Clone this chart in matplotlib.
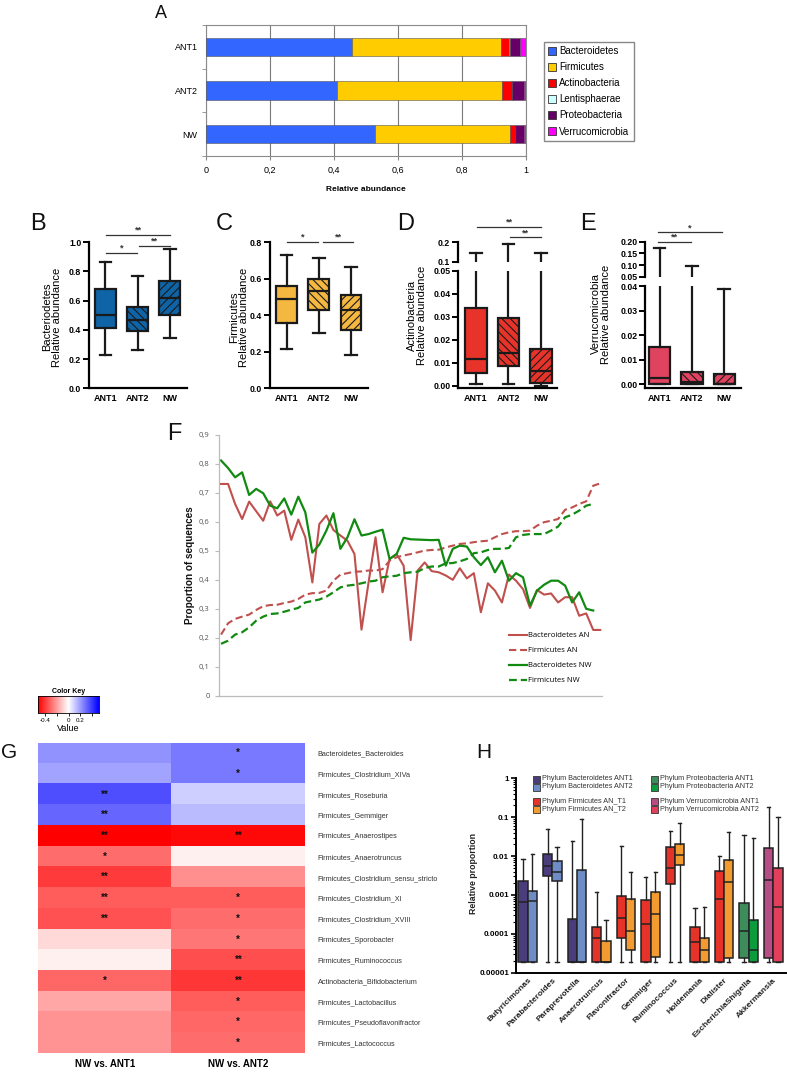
import numpy as np
import matplotlib
matplotlib.use('Agg')
import matplotlib.pyplot as plt
from matplotlib.patches import Patch, Rectangle
from matplotlib.lines import Line2D
from matplotlib.colors import LinearSegmentedColormap
from matplotlib.ticker import FixedLocator, NullFormatter, LogLocator

plt.rcParams['font.family'] = ['Liberation Sans', 'DejaVu Sans']
plt.rcParams['hatch.linewidth'] = 0.8

# ---------------- DATA ----------------
# Panel A
groups_A = ['ANT1', 'ANT2', 'NW']
phyla_A = ['Bacteroidetes', 'Firmicutes', 'Actinobacteria', 'Lentisphaerae',
           'Proteobacteria', 'Verrucomicrobia']
bacteroidetes_A = [0.455, 0.409, 0.527]
firmicutes_A = [0.468, 0.515, 0.424]
actinobacteria_A = [0.025, 0.032, 0.015]
lentisphaerae_A = [0.001, 0.001, 0.001]
proteobacteria_A = [0.033, 0.037, 0.028]
verrucomicrobia_A = [0.018, 0.006, 0.005]

# Panels B-E : [whisker low, q1, median, q3, whisker high]
box_groups = ['ANT1', 'ANT2', 'NW']
bact_ANT1 = [0.23, 0.41, 0.50, 0.68, 0.86]
bact_ANT2 = [0.26, 0.39, 0.465, 0.555, 0.765]
bact_NW = [0.345, 0.50, 0.62, 0.735, 0.955]
firm_ANT1 = [0.215, 0.355, 0.49, 0.56, 0.73]
firm_ANT2 = [0.30, 0.43, 0.53, 0.595, 0.715]
firm_NW = [0.18, 0.32, 0.43, 0.51, 0.665]
actino_ANT1 = [0.0005, 0.0054, 0.0115, 0.0337, 0.146]
actino_ANT2 = [0.0005, 0.0086, 0.0141, 0.0297, 0.19]
actino_NW = [0.0, 0.0010, 0.0065, 0.016, 0.146]
verru_ANT1 = [0.0, 0.0, 0.0025, 0.015, 0.175]
verru_ANT2 = [0.0, 0.0003, 0.001, 0.0052, 0.097]
verru_NW = [0.0, 0.0, 0.0003, 0.0043, 0.0386]

# Panel F
f_bact_an = [0.731, 0.731, 0.662, 0.61, 0.67, 0.637, 0.604, 0.671, 0.622, 0.639,
             0.538, 0.608, 0.547, 0.391, 0.593, 0.622, 0.572, 0.553, 0.535, 0.489,
             0.228, 0.39, 0.547, 0.357, 0.472, 0.489, 0.449, 0.192, 0.432, 0.46,
             0.43, 0.426, 0.415, 0.40, 0.44, 0.405, 0.423, 0.288, 0.388, 0.363,
             0.322, 0.418, 0.397, 0.368, 0.303, 0.365, 0.349, 0.353, 0.322, 0.34,
             0.34, 0.276, 0.284, 0.227, 0.227]
f_firm_an = [0.211, 0.25, 0.265, 0.273, 0.28, 0.296, 0.309, 0.313, 0.314, 0.32,
             0.325, 0.334, 0.349, 0.354, 0.355, 0.363, 0.397, 0.418, 0.423, 0.428,
             0.429, 0.432, 0.432, 0.437, 0.466, 0.478, 0.484, 0.489, 0.495, 0.501,
             0.503, 0.504, 0.512, 0.518, 0.524, 0.526, 0.53, 0.533, 0.535, 0.547,
             0.558, 0.564, 0.568, 0.568, 0.57, 0.587, 0.599, 0.604, 0.61, 0.642,
             0.65, 0.662, 0.671, 0.725, 0.733]
f_bact_nw = [0.812, 0.786, 0.754, 0.771, 0.693, 0.714, 0.699, 0.656, 0.647, 0.681,
             0.625, 0.687, 0.633, 0.494, 0.522, 0.57, 0.63, 0.507, 0.547, 0.609,
             0.553, 0.558, 0.566, 0.573, 0.472, 0.489, 0.545, 0.54, 0.539, 0.538,
             0.537, 0.538, 0.449, 0.507, 0.518, 0.515, 0.478, 0.451, 0.478, 0.426,
             0.466, 0.397, 0.423, 0.409, 0.311, 0.363, 0.383, 0.397, 0.397, 0.38,
             0.322, 0.357, 0.30, 0.294]
f_firm_nw = [0.179, 0.19, 0.211, 0.219, 0.236, 0.259, 0.273, 0.282, 0.284, 0.29,
             0.297, 0.303, 0.322, 0.327, 0.332, 0.342, 0.357, 0.374, 0.38, 0.383,
             0.388, 0.394, 0.397, 0.409, 0.412, 0.414, 0.423, 0.426, 0.428, 0.441,
             0.446, 0.446, 0.457, 0.458, 0.464, 0.472, 0.492, 0.495, 0.503, 0.507,
             0.507, 0.51, 0.547, 0.555, 0.558, 0.558, 0.558, 0.57, 0.584, 0.616,
             0.625, 0.639, 0.656, 0.662]
f_labels = ['Bacteroidetes AN', 'Firmicutes AN', 'Bacteroidetes NW', 'Firmicutes NW']
f_yticks = ['0', '0,1', '0,2', '0,3', '0,4', '0,5', '0,6', '0,7', '0,8', '0,9']

# Panel G
g_rows = ['Bacteroidetes_Bacteroides', 'Firmicutes_Clostridium_XIVa', 'Firmicutes_Roseburia',
          'Firmicutes_Gemmiger', 'Firmicutes_Anaerostipes', 'Firmicutes_Anaerotruncus',
          'Firmicutes_Clostridium_sensu_stricto', 'Firmicutes_Clostridium_XI',
          'Firmicutes_Clostridium_XVIII', 'Firmicutes_Sporobacter', 'Firmicutes_Ruminococcus',
          'Actinobacteria_Bifidobacterium', 'Firmicutes_Lactobacillus',
          'Firmicutes_Pseudoflavonifractor', 'Firmicutes_Lactococcus']
g_cols = ['NW vs. ANT1', 'NW vs. ANT2']
g_ant1 = [0.22, 0.19, 0.36, 0.31, -0.52, -0.30, -0.40, -0.33, -0.35, -0.08, -0.03,
          -0.31, -0.18, -0.22, -0.22]
g_ant2 = [0.27, 0.27, 0.10, 0.14, -0.50, -0.03, -0.23, -0.33, -0.30, -0.28, -0.36,
          -0.41, -0.33, -0.31, -0.30]
g_sig_ant1 = ['', '', '**', '**', '**', '*', '**', '**', '**', '', '', '*', '', '', '']
g_sig_ant2 = ['*', '*', '', '', '**', '', '', '*', '*', '*', '**', '**', '*', '*', '*']

# Panel H : per taxon
h_taxa = ['Butyricimonas', 'Parabacteroides', 'Paraprevotella', 'Anaerotruncus',
          'Flavonifractor', 'Gemmiger', 'Ruminococcus', 'Holdemania', 'Dialister',
          'EscherichiaShigella', 'Akkermansia']
h_phylum = ['Bacteroidetes', 'Bacteroidetes', 'Bacteroidetes', 'Firmicutes', 'Firmicutes',
            'Firmicutes', 'Firmicutes', 'Firmicutes', 'Firmicutes', 'Proteobacteria',
            'Verrucomicrobia']
h1_low = [1.9e-5] * 11
h1_q1 = [1.9e-5, 3.1e-3, 1.9e-5, 1.9e-5, 7.9e-5, 1.9e-5, 1.9e-3, 1.9e-5, 1.9e-5, 2.4e-5, 2.4e-5]
h1_med = [6.6e-4, 5.6e-3, 1.9e-5, 7.9e-5, 2.6e-4, 1.75e-4, 4.8e-3, 6.0e-5, 7.7e-4, 1.2e-4, 2.4e-3]
h1_q3 = [2.3e-3, 1.1e-2, 2.35e-4, 1.5e-4, 9.6e-4, 7.4e-4, 1.67e-2, 1.5e-4, 4.2e-3, 6.3e-4, 1.59e-2]
h1_high = [8.3e-3, 0.051, 0.025, 1.2e-3, 0.0186, 2.9e-3, 0.045, 4.6e-4, 0.0102, 0.034, 0.187]
h2_low = [1.9e-5] * 11
h2_q1 = [1.9e-5, 2.3e-3, 1.9e-5, 1.9e-5, 3.8e-5, 2.5e-5, 5.9e-3, 1.9e-5, 2.4e-5, 1.9e-5, 1.9e-5]
h2_med = [7.1e-4, 3.9e-3, 1.9e-5, 1.9e-5, 1.2e-4, 3.2e-4, 1.07e-2, 3.8e-5, 2.2e-3, 3.8e-5, 5.0e-4]
h2_q3 = [1.26e-3, 7.4e-3, 4.4e-3, 6.6e-5, 7.7e-4, 1.17e-3, 2.1e-2, 7.6e-5, 7.9e-3, 2.3e-4, 5.0e-3]
h2_high = [1.1e-2, 0.017, 0.09, 2.3e-4, 3.8e-3, 3.8e-3, 0.069, 4.9e-4, 0.042, 0.029, 0.10]
h_legend = ['Phylum Bacteroidetes ANT1', 'Phylum Bacteroidetes ANT2',
            'Phylum Firmicutes AN_T1', 'Phylum Firmicutes AN_T2',
            'Phylum Proteobacteria ANT1', 'Phylum Proteobacteria ANT2',
            'Phylum Verrucomicrobia ANT1', 'Phylum Verrucomicrobia ANT2']

# ---------------- FIGURE ----------------
W, H = 787, 1073
fig = plt.figure(figsize=(W / 100, H / 100), dpi=100)
fig.patch.set_facecolor('white')


def add_ax(l, t, r, b):
    return fig.add_axes([l / W, 1 - b / H, (r - l) / W, (b - t) / H])


def ftext(x, y, s, **kw):
    return fig.text(x / W, 1 - y / H, s, **kw)


# panel letters
for letter, x, y, fs in [('A', 155, 18, 13), ('B', 30, 230, 17), ('C', 216, 230, 17),
                         ('D', 397, 230, 17), ('E', 580, 230, 17), ('F', 167, 440, 17),
                         ('G', 1, 758, 15), ('H', 476, 758, 15)]:
    ftext(x, y, letter, fontsize=fs, ha='left', va='baseline', color='#111')

# ---------- Panel A ----------
axA = add_ax(206, 25, 526, 156)
colorsA = ['#3366FF', '#FFCC00', '#FF0000', '#CCFFFF', '#660066', '#FF00FF']
seriesA = [bacteroidetes_A, firmicutes_A, actinobacteria_A, lentisphaerae_A,
           proteobacteria_A, verrucomicrobia_A]
yA = np.arange(len(groups_A)) + 0.5
left = np.zeros(len(groups_A))
handlesA = []
for name, vals, c in zip(phyla_A, seriesA, colorsA):
    axA.barh(yA, vals, left=left, height=0.42, color=c, edgecolor='#555555',
             linewidth=0.4, zorder=3)
    left += np.array(vals)
    handlesA.append(Patch(facecolor=c, edgecolor='#333333', linewidth=0.6, label=name))
axA.set_xlim(0, 1)
axA.set_ylim(3, 0)
axA.set_yticks(yA)
axA.set_yticklabels(groups_A, fontsize=6.5)
axA.yaxis.set_minor_locator(FixedLocator([0, 1, 2, 3]))
axA.tick_params(axis='y', which='major', length=0, pad=6)
axA.tick_params(axis='y', which='minor', length=3, color='#888888')
axA.set_xticks([0, 0.2, 0.4, 0.6, 0.8, 1.0])
axA.set_xticklabels(['0', '0,2', '0,4', '0,6', '0,8', '1'], fontsize=6.5)
axA.tick_params(axis='x', length=3, color='#888888', pad=4)
axA.grid(axis='x', color='#7a7a7a', linewidth=0.8, zorder=0)
for s in axA.spines.values():
    s.set_color('#8a8a8a')
    s.set_linewidth(0.8)
axA.set_xlabel('Relative abundance', fontsize=6, fontweight='bold', labelpad=8)
fig.legend(handles=handlesA, loc='upper left', bbox_to_anchor=(544 / W, 1 - 42 / H),
           bbox_transform=fig.transFigure, fontsize=7, frameon=True, fancybox=False,
           edgecolor='#888888', framealpha=1, handlelength=0.8, handleheight=0.8,
           handletextpad=0.3, labelspacing=0.62, borderpad=0.45, borderaxespad=0)


# ---------- Panels B-E ----------
def make_stats(groups, arrs):
    out = []
    for g, a in zip(groups, arrs):
        out.append(dict(label=g, whislo=a[0], q1=a[1], med=a[2], q3=a[3], whishi=a[4]))
    return out


def draw_box(ax, stats, color, width=0.65):
    lw = 1.6
    k = '#1a1a1a'
    bp = ax.bxp(stats, positions=[1, 2, 3], widths=width, patch_artist=True,
                showfliers=False, capwidths=width * 0.55,
                boxprops=dict(linewidth=lw, edgecolor=k),
                medianprops=dict(color=k, linewidth=lw),
                whiskerprops=dict(color=k, linewidth=lw),
                capprops=dict(color=k, linewidth=lw))
    for p, h in zip(bp['boxes'], [None, '\\\\\\\\', '////']):
        p.set_facecolor(color)
        if h:
            p.set_hatch(h)
    return bp


def style_prism(ax, xlabels=True):
    for s in ['top', 'right']:
        ax.spines[s].set_visible(False)
    ax.spines['left'].set_linewidth(1.6)
    ax.spines['bottom'].set_linewidth(1.6)
    ax.tick_params(axis='y', length=4, width=1.4, labelsize=6.3, pad=1.5)
    ax.tick_params(axis='x', length=0, labelsize=6.5, pad=4)
    for t in ax.get_yticklabels():
        t.set_fontweight('bold')
    if xlabels:
        ax.set_xticks([1, 2, 3])
        ax.set_xticklabels(box_groups, fontweight='bold', fontsize=6.5)
    else:
        ax.set_xticks([])


def sig(ax, x0, x1, y, txt):
    ax.plot([x0, x1], [y, y], color='#333333', linewidth=0.9, clip_on=False)
    ax.text((x0 + x1) / 2, y, txt, ha='center', va='bottom', fontsize=6.5,
            fontweight='bold', color='#333333', clip_on=False)


# B
axB = add_ax(89, 242, 187, 388.3)
draw_box(axB, make_stats(box_groups, [bact_ANT1, bact_ANT2, bact_NW]), '#0E64A6')
axB.set_xlim(0.49, 3.53)
axB.set_ylim(0, 1.0)
axB.set_yticks([0, 0.2, 0.4, 0.6, 0.8, 1.0])
axB.set_yticklabels(['0.0', '0.2', '0.4', '0.6', '0.8', '1.0'])
style_prism(axB)
sig(axB, 1.02, 1.97, 0.925, '*')
sig(axB, 2.05, 3.0, 0.975, '**')
sig(axB, 1.02, 3.0, 1.05, '**')
ftext(52, 317, 'Bacteriodetes\nRelative abundance', rotation=90, ha='center',
      va='center', fontsize=8, linespacing=1.0)

# C
axC = add_ax(270, 242, 368, 388.3)
draw_box(axC, make_stats(box_groups, [firm_ANT1, firm_ANT2, firm_NW]), '#F4B740')
axC.set_xlim(0.48, 3.53)
axC.set_ylim(0, 0.8)
axC.set_yticks([0, 0.2, 0.4, 0.6, 0.8])
axC.set_yticklabels(['0.0', '0.2', '0.4', '0.6', '0.8'])
style_prism(axC)
sig(axC, 1.02, 1.98, 0.80, '*')
sig(axC, 2.14, 3.07, 0.80, '**')
ftext(239, 317, 'Firmicutes\nRelative abundance', rotation=90, ha='center',
      va='center', fontsize=8, linespacing=1.0)

# D (broken axis)
axD = add_ax(458, 271, 557, 388.3)
axD2 = add_ax(458, 242.3, 557, 261.7)
statsD = make_stats(box_groups, [actino_ANT1, actino_ANT2, actino_NW])
for a in (axD, axD2):
    draw_box(a, statsD, '#E8332A', width=0.66)
    a.set_xlim(0.45, 3.49)
axD.set_ylim(-0.0012, 0.05)
axD.set_yticks([0, 0.01, 0.02, 0.03, 0.04, 0.05])
axD.set_yticklabels(['0.00', '0.01', '0.02', '0.03', '0.04', '0.05'])
style_prism(axD)
axD2.set_ylim(0.1, 0.2)
axD2.set_yticks([0.1, 0.2])
axD2.set_yticklabels(['0.1', '0.2'])
style_prism(axD2, xlabels=False)
axD2.spines['bottom'].set_visible(False)
sig(axD2, 1.03, 3.0, 0.28, '**')
sig(axD2, 2.04, 3.0, 0.227, '**')
ftext(417, 315, 'Actinobacteria\nRelative abundance', rotation=90, ha='center',
      va='center', fontsize=8, linespacing=1.0)

# E (broken axis)
axE = add_ax(645, 286, 741, 388.3)
axE2 = add_ax(645, 241.7, 741, 276.7)
statsE = make_stats(box_groups, [verru_ANT1, verru_ANT2, verru_NW])
for a in (axE, axE2):
    draw_box(a, statsE, '#E0435F', width=0.66)
    a.set_xlim(0.55, 3.52)
axE.set_ylim(-0.0016, 0.04)
axE.set_yticks([0, 0.01, 0.02, 0.03, 0.04])
axE.set_yticklabels(['0.00', '0.01', '0.02', '0.03', '0.04'])
style_prism(axE)
axE2.set_ylim(0.05, 0.2)
axE2.set_yticks([0.05, 0.10, 0.15, 0.20])
axE2.set_yticklabels(['0.05', '0.10', '0.15', '0.20'])
style_prism(axE2, xlabels=False)
axE2.spines['bottom'].set_visible(False)
sig(axE2, 0.95, 2.94, 0.24, '*')
sig(axE2, 0.95, 1.98, 0.20, '**')
ftext(601, 314, 'Verrucomicrobia\nRelative abundance', rotation=90, ha='center',
      va='center', fontsize=8, linespacing=1.0)

# ---------- Panel F ----------
axF = add_ax(219.3, 435, 602, 695.7)
red = '#C0504D'
green = '#118A11'
axF.plot(np.arange(len(f_bact_an)), f_bact_an, color=red, lw=1.5, label=f_labels[0])
axF.plot(np.arange(len(f_firm_an)), f_firm_an, color=red, lw=1.5, dashes=(3.5, 1.8),
         label=f_labels[1])
axF.plot(np.arange(len(f_bact_nw)), f_bact_nw, color=green, lw=1.6, label=f_labels[2])
axF.plot(np.arange(len(f_firm_nw)), f_firm_nw, color=green, lw=1.6, dashes=(3.5, 1.8),
         label=f_labels[3])
axF.set_xlim(-0.25, 54.25)
axF.set_ylim(0, 0.9)
axF.set_yticks(np.arange(10) * 0.1)
axF.set_yticklabels(f_yticks, fontsize=5.5, color='#555555', family=['Open Sans', 'DejaVu Sans'])
axF.set_xticks([])
for s in ['top', 'right']:
    axF.spines[s].set_visible(False)
for s in ['left', 'bottom']:
    axF.spines[s].set_color('#BBBBBB')
    axF.spines[s].set_linewidth(0.9)
axF.tick_params(axis='y', length=3, color='#BBBBBB', pad=4)
ftext(190, 565, 'Proportion of sequences', rotation=90, ha='center', va='center',
      fontsize=7.2, fontweight='bold', color='#111')
axF.legend(loc='upper left', bbox_to_anchor=(509 / W, 1 - 632 / H),
           bbox_transform=fig.transFigure, frameon=False,
           handlelength=2.3, handletextpad=0.15, labelspacing=1.0, borderpad=0,
           borderaxespad=0, prop={'family': ['Open Sans', 'DejaVu Sans'], 'size': 5.5})

# ---------- Panel G ----------
cmapG = LinearSegmentedColormap.from_list('rwb', ['#FF0000', '#FFFFFF', '#0000FF'])
vlim = 0.52
axK = add_ax(38, 696, 99, 712.7)
grad = np.linspace(-vlim, vlim, 256)[None, :]
axK.imshow(grad, cmap=cmapG, vmin=-vlim, vmax=vlim, aspect='auto',
           extent=[-vlim, vlim, 0, 1])
axK.set_yticks([])
axK.set_xticks([-0.4, -0.2, 0, 0.2, 0.4])
axK.set_xticklabels(['-0.4', '', '0', '0.2', ''], fontsize=4.5)
axK.tick_params(axis='x', length=2, width=0.6, pad=1.5)
for s in axK.spines.values():
    s.set_linewidth(0.6)
axK.set_title('Color Key', fontsize=5, fontweight='bold', pad=2)
axK.set_xlabel('Value', fontsize=6.5, labelpad=1)

axG = add_ax(38.3, 742.7, 305, 1053.3)
dataG = np.column_stack([g_ant1, g_ant2])
axG.imshow(dataG, cmap=cmapG, vmin=-vlim, vmax=vlim, aspect='auto',
           interpolation='nearest')
for i in range(len(g_rows)):
    for j, sigs in enumerate([g_sig_ant1, g_sig_ant2]):
        if sigs[i]:
            axG.text(j, i, sigs[i], ha='center', va='center', fontsize=7,
                     fontweight='bold', color='#111')
axG.yaxis.tick_right()
axG.set_yticks(np.arange(len(g_rows)))
axG.set_yticklabels(g_rows, fontsize=5.2, color='#333333')
axG.tick_params(axis='y', length=0, pad=9)
axG.set_xticks([0, 1])
axG.set_xticklabels(g_cols, fontsize=7, fontweight='bold')
axG.tick_params(axis='x', length=0, pad=4)
for s in axG.spines.values():
    s.set_visible(False)

# ---------- Panel H ----------
axH = add_ax(516, 778.3, 786, 972.7)
h_colors = {'Bacteroidetes': ('#4B3C7B', '#6E8CC6'),
            'Firmicutes': ('#E5332A', '#F39A31'),
            'Proteobacteria': ('#3E8C5B', '#0C9B3D'),
            'Verrucomicrobia': ('#B84C84', '#E23F5C')}
bw = 0.38
for grp, (lo, q1, md, q3, hi), off in [
        (0, (h1_low, h1_q1, h1_med, h1_q3, h1_high), -bw / 2),
        (1, (h2_low, h2_q1, h2_med, h2_q3, h2_high), bw / 2)]:
    stats = [dict(whislo=lo[i], q1=q1[i], med=md[i], q3=q3[i], whishi=hi[i])
             for i in range(len(h_taxa))]
    pos = np.arange(len(h_taxa)) + off
    bp = axH.bxp(stats, positions=pos, widths=bw, patch_artist=True, showfliers=False,
                 capwidths=bw * 0.35,
                 boxprops=dict(linewidth=1.1, edgecolor='#222222'),
                 medianprops=dict(color='#222222', linewidth=1.1),
                 whiskerprops=dict(color='#222222', linewidth=1.0),
                 capprops=dict(color='#222222', linewidth=1.0))
    for p, ph in zip(bp['boxes'], h_phylum):
        p.set_facecolor(h_colors[ph][grp])
axH.set_yscale('log')
axH.set_ylim(1e-5, 1)
axH.set_xlim(-0.48, 10.52)
axH.set_yticks([1e-5, 1e-4, 1e-3, 1e-2, 1e-1, 1])
axH.set_yticklabels(['0.00001', '0.0001', '0.001', '0.01', '0.1', '1'], fontsize=5.8,
                    fontweight='bold')
axH.yaxis.set_minor_locator(LogLocator(base=10, subs=np.arange(2, 10)))
axH.yaxis.set_minor_formatter(NullFormatter())
axH.tick_params(axis='y', which='major', length=3.5, width=1.2, pad=1.5)
axH.tick_params(axis='y', which='minor', length=2, width=0.8)
axH.set_xticks(np.arange(len(h_taxa)))
axH.set_xticklabels(h_taxa, rotation=45, ha='right', rotation_mode='anchor',
                    fontsize=6, fontweight='bold', color='#222222')
axH.tick_params(axis='x', length=0, pad=3)
for s in ['top', 'right']:
    axH.spines[s].set_visible(False)
axH.spines['left'].set_linewidth(1.4)
axH.spines['bottom'].set_linewidth(1.4)
ftext(474, 874, 'Relative proportion', rotation=90, ha='center', va='center',
      fontsize=6.3, fontweight='bold', color='#222')

# legend of H (drawn as small squares + text)
leg_cols = [h_colors['Bacteroidetes'][0], h_colors['Bacteroidetes'][1],
            h_colors['Firmicutes'][0], h_colors['Firmicutes'][1],
            h_colors['Proteobacteria'][0], h_colors['Proteobacteria'][1],
            h_colors['Verrucomicrobia'][0], h_colors['Verrucomicrobia'][1]]
leg_pos = [(533, 779), (533, 787), (533, 801.5), (533, 809.5),
           (651, 779), (651, 787), (651, 801.5), (651, 809.5)]
for lab, c, (x, y) in zip(h_legend, leg_cols, leg_pos):
    fig.add_artist(Rectangle((x / W, 1 - (y + 3.5) / H), 7 / W, 7 / H,
                             facecolor=c, edgecolor='#333333', linewidth=0.6,
                             transform=fig.transFigure))
    ftext(x + 9, y, lab, fontsize=5.2, ha='left', va='center', color='#333333')

fig.savefig('out.png', dpi=100, facecolor='white')
